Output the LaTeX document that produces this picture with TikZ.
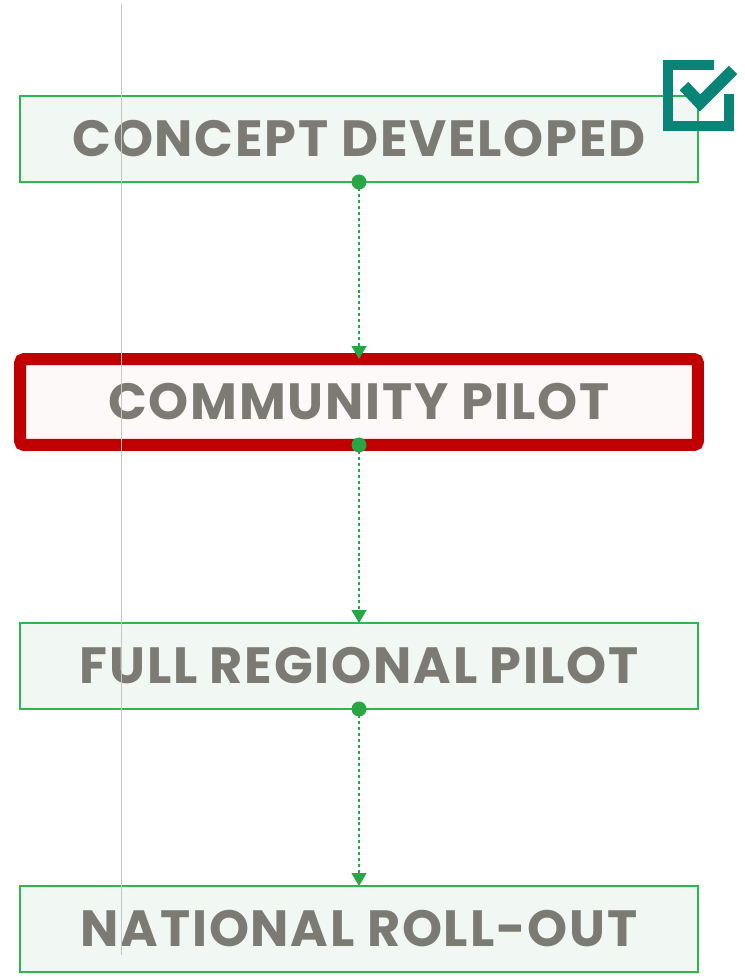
\documentclass[tikz,border=0pt]{standalone}
\usepackage{fontspec}
\newfontfamily\stagefont{Poppins}[UprightFont=* Bold, LetterSpace=3.5]
\usepackage{tikz}
\usetikzlibrary{positioning,arrows.meta}
\definecolor{stagegreen}{HTML}{2DB84D}
\definecolor{stagefill}{HTML}{F1F8F3}
\definecolor{stagetext}{HTML}{7B7A73}
\definecolor{curred}{HTML}{C00000}
\definecolor{curfill}{HTML}{FDF9F8}
\definecolor{tickteal}{HTML}{0B8478}

\begin{document}
\begin{tikzpicture}[
  x=0.02cm, y=-0.02cm,
  stage/.style={draw=stagegreen, line width=0.9pt, fill=stagefill,
    minimum width=13.56cm, minimum height=1.72cm, inner sep=0pt, outer sep=0pt,
    text=stagetext, font=\stagefont\fontsize{29}{30}\selectfont},
  current/.style={stage, draw=curred, line width=0.24cm, fill=curfill, rounded corners=0.08cm},
  dot/.style={circle, fill=stagegreen!90!black, inner sep=0pt, minimum size=0.3cm},
  flow/.style={-{Triangle[length=0.26cm, width=0.3cm]}, stagegreen!90!black, line width=0.75pt,
    dash pattern=on 1.7pt off 1.7pt},
]
\useasboundingbox (0,0) rectangle (744,980);

% --- stages ---
\node[stage] (concept) at (359,139) {CONCEPT DEVELOPED};
\node[current] (community) at (359,402) {COMMUNITY PILOT};
\node[stage] (regional) at (359,666) {FULL REGIONAL PILOT};
\node[stage] (national) at (359,929) {NATIONAL ROLL-OUT};

% --- connectors ---
\foreach \a/\b in {concept/community, community/regional, regional/national}{
  \node[dot] (\a-dot) at (\a.south) {};
  \draw[flow] (\a-dot.center) -- (\b.north);
}

% --- done mark ---
\draw[tickteal, line width=0.2cm] (714,65) -- (668,65) -- (668,126) -- (729,126) -- (729,94);
\draw[tickteal, line width=0.24cm] (684,86) -- (700,103) -- (733,70);

% --- guide line ---
\draw[black!22, line width=0.5pt] (121,4) -- (121,955);
\end{tikzpicture}
\end{document}
